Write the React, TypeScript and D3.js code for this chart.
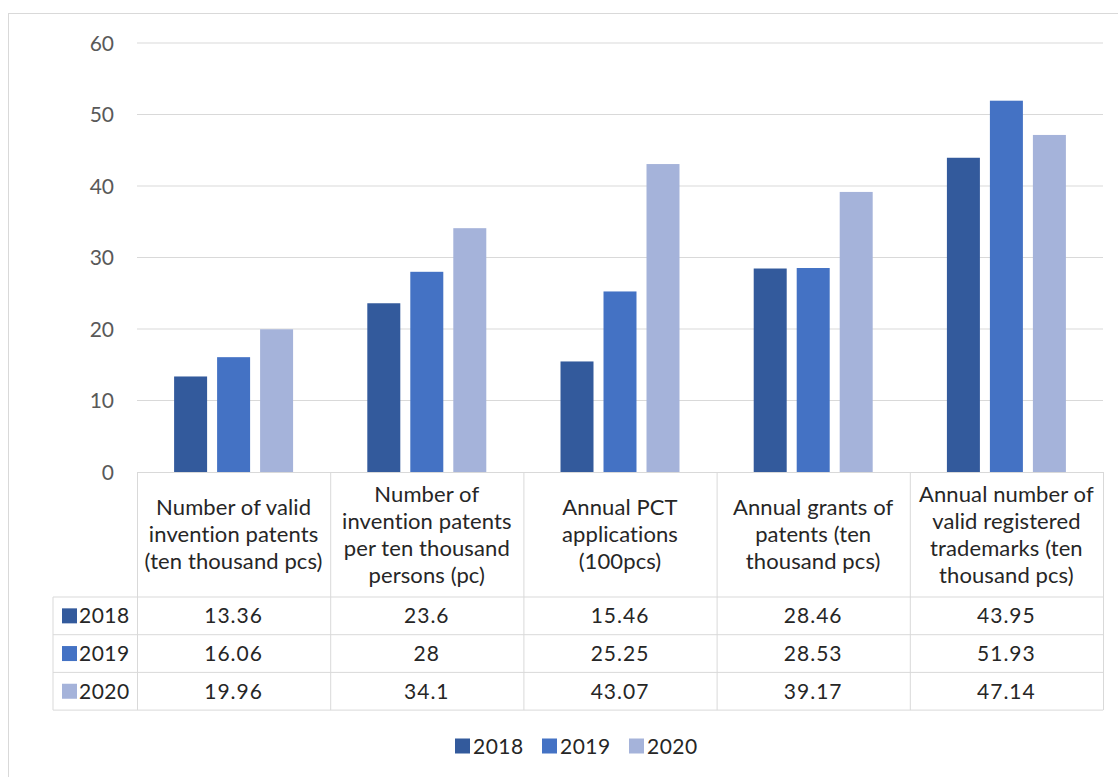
import React from "react";
import * as d3 from "d3";

const categories: string[][] = [
  ["Number of valid", "invention patents", "(ten thousand pcs)"],
  ["Number of", "invention patents", "per ten thousand", "persons (pc)"],
  ["Annual PCT", "applications", "(100pcs)"],
  ["Annual grants of", "patents (ten", "thousand pcs)"],
  ["Annual number of", "valid registered", "trademarks (ten", "thousand pcs)"],
];
const seriesNames = ["2018", "2019", "2020"];
const values2018 = [13.36, 23.6, 15.46, 28.46, 43.95];
const values2019 = [16.06, 28, 25.25, 28.53, 51.93];
const values2020 = [19.96, 34.1, 43.07, 39.17, 47.14];
const valueLabels = [
  ["13.36", "23.6", "15.46", "28.46", "43.95"],
  ["16.06", "28", "25.25", "28.53", "51.93"],
  ["19.96", "34.1", "43.07", "39.17", "47.14"],
];
const yTicks = [0, 10, 20, 30, 40, 50, 60];
const colors = ["#335A9C", "#4472C4", "#A5B3DA"];

export default function App() {
  const W = 1118, H = 777;
  const left = 137, right = 1103, top = 43, bottom = 472;
  const series = [values2018, values2019, values2020];
  const y = d3.scaleLinear().domain([0, 60]).range([bottom, top]);
  const x = d3.scaleBand<number>().domain(d3.range(categories.length)).range([left, right]).paddingInner(0).paddingOuter(0);
  const inner = d3.scaleBand<number>().domain([0, 1, 2]).range([0, x.bandwidth()]).paddingInner(0.2326).paddingOuter(0.863);
  const headerBottom = 597;
  const rowH = 37.7;
  const tableLeft = 53;
  const font = "Lato, 'Open Sans', sans-serif";
  const textColor = "#595959";
  const dark = "#262626";
  const grid = "#d9d9d9";

  return (
    <svg width={W} height={H} style={{ position: "absolute", left: 0, top: 0 }} fontFamily={font}>
      <rect x={0} y={0} width={W} height={H} fill="#fff" />
      <rect x={8.5} y={13.5} width={W + 10} height={H + 10} fill="none" stroke="#d9d9d9" />
      {yTicks.map((t) => (
        <g key={t}>
          {t > 0 && <line x1={left} x2={right} y1={y(t)} y2={y(t)} stroke={grid} />}
          <text x={114} y={y(t)} dy="0.36em" textAnchor="end" fontSize={21} fill={textColor}>{t}</text>
        </g>
      ))}
      {series.map((vals, si) =>
        vals.map((v, ci) => (
          <rect key={`${si}-${ci}`} x={(x(ci) as number) + (inner(si) as number)} y={y(v)} width={inner.bandwidth()} height={bottom - y(v)} fill={colors[si]} />
        ))
      )}
      {/* table */}
      <g stroke={grid} strokeWidth={1} fill="none">
        <line x1={left} x2={right} y1={bottom + 0.5} y2={bottom + 0.5} />
        {[0, 1, 2, 3].map((r) => (
          <line key={r} x1={tableLeft} x2={right} y1={headerBottom + r * rowH} y2={headerBottom + r * rowH} />
        ))}
        <line x1={tableLeft} x2={tableLeft} y1={headerBottom} y2={headerBottom + 3 * rowH} />
        {d3.range(categories.length + 1).map((i) => {
          const xx = i < categories.length ? (x(i) as number) : right;
          return <line key={i} x1={xx + 0.5} x2={xx + 0.5} y1={bottom} y2={headerBottom + 3 * rowH} />;
        })}
      </g>
      {categories.map((lines, ci) => {
        const cx = (x(ci) as number) + x.bandwidth() / 2;
        const mid = (bottom + headerBottom) / 2;
        const lh = 27;
        const start = mid - ((lines.length - 1) * lh) / 2;
        return (
          <text key={ci} textAnchor="middle" fontSize={22} fill={dark} letterSpacing={0.1}>
            {lines.map((l, li) => (
              <tspan key={li} x={cx} y={start + li * lh} dy="0.36em">{l}</tspan>
            ))}
          </text>
        );
      })}
      {seriesNames.map((s, si) => {
        const cy = headerBottom + rowH * (si + 0.5);
        return (
          <g key={s}>
            <rect x={62} y={cy - 7.5} width={15} height={15} fill={colors[si]} />
            <text x={79} y={cy} dy="0.36em" fontSize={21} fill={dark} letterSpacing={0.5}>{s}</text>
            {valueLabels[si].map((lab, ci) => (
              <text key={ci} x={(x(ci) as number) + x.bandwidth() / 2} y={cy} dy="0.36em" textAnchor="middle" fontSize={21} fill={dark} letterSpacing={1}>{lab}</text>
            ))}
          </g>
        );
      })}
      {/* legend */}
      {seriesNames.map((s, si) => {
        const lx = 455 + si * 87;
        const cy = 746;
        return (
          <g key={s}>
            <rect x={lx} y={cy - 7.5} width={15} height={15} fill={colors[si]} />
            <text x={lx + 18} y={cy} dy="0.36em" fontSize={21} fill={dark} letterSpacing={0.5}>{s}</text>
          </g>
        );
      })}
    </svg>
  );
}
